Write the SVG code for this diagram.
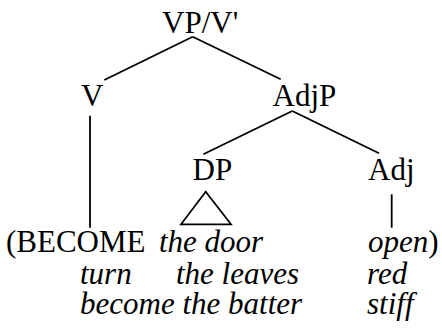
<svg xmlns="http://www.w3.org/2000/svg" width="442" height="335" viewBox="0 0 442 335">
<style>
.t{font-size:31px;fill:#000}
.i{font-style:italic}
.e{stroke:#000;stroke-width:1.8;fill:none;stroke-linecap:butt}
</style>
<rect width="442" height="335" fill="#fff"/>
<g id="connectors">
<line class="e" x1="192.7" y1="36.7" x2="104.3" y2="80"/>
<line class="e" x1="192.7" y1="36.7" x2="280.7" y2="79.3"/>
<line class="e" x1="90" y1="115.7" x2="90" y2="227.7"/>
<line class="e" x1="292.3" y1="111" x2="203.3" y2="154.3"/>
<line class="e" x1="292.3" y1="111" x2="379" y2="153.3"/>
<line class="e" x1="391.7" y1="194.3" x2="391.7" y2="227.7"/>
<polygon class="e" points="205.7,191.7 181,224.3 231,224.3"/>
</g>
<g font-family="Liberation Serif">
<g id="vp"><text class="t" font-family="Liberation Serif" x="162" y="33">VP/V'</text></g>
<g id="v"><text class="t" font-family="Liberation Serif" x="81" y="106">V</text></g>
<g id="adjp"><text class="t" font-family="Liberation Serif" x="272.5" y="106">AdjP</text></g>
<g id="dp"><text class="t" font-family="Liberation Serif" x="192.5" y="180">DP</text></g>
<g id="adj"><text class="t" font-family="Liberation Serif" x="368" y="180">Adj</text></g>
<g id="row1">
<text class="t" font-family="Liberation Serif" x="6" y="252">(BECOME</text>
<text class="t i" font-family="Liberation Serif" x="159" y="252">the door</text>
<text class="t" font-family="Liberation Serif" x="368" y="252"><tspan class="i">open</tspan>)</text>
</g>
<g id="row2">
<text class="t i" font-family="Liberation Serif" x="80" y="284">turn</text>
<text class="t i" font-family="Liberation Serif" x="176" y="284">the leaves</text>
<text class="t i" font-family="Liberation Serif" x="367" y="284">red</text>
</g>
<g id="row3">
<text class="t i" font-family="Liberation Serif" x="80" y="314">become the batter</text>
<text class="t i" font-family="Liberation Serif" x="367" y="314">stiff</text>
</g>
</g>
</svg>
